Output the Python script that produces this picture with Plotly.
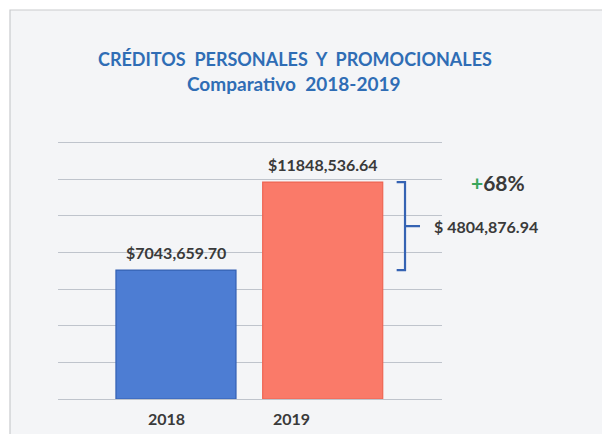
import plotly.graph_objects as go

# ---- data ----
years = ["2018", "2019"]
values = [7043659.70, 11848536.64]
bar_colors = ["#4d7dd3", "#fa7a69"]
bar_edges = ["#3461b3", "#ee6553"]

title_line1 = "CRÉDITOS&nbsp; PERSONALES&nbsp; Y&nbsp; PROMOCIONALES"
title_line2 = "Comparativo&nbsp; 2018-2019"


def fmt(v):
    cents = int(round(v * 100))
    ip, c = divmod(cents, 100)
    return f"{ip // 1000},{ip % 1000:03d}.{c:02d}"


diff = values[1] - values[0]
pct = diff / values[0] * 100

W, H = 602, 434
L, R, T, B = 58, 160, 139, 35
pw, ph = W - L - R, H - T - B


def px2paper_x(px):
    return (px - L) / pw


def px2paper_y(py):
    return (H - B - py) / ph


xs = list(range(len(years)))
FONT = "Lato"
DARK = "#3a3a3a"
BLUE = "#2f6db5"

fig = go.Figure()
fig.add_trace(go.Bar(
    x=xs, y=values, width=0.818,
    marker=dict(color=bar_colors, line=dict(color=bar_edges, width=1.2)),
    hoverinfo="skip",
))

ann = []
# value labels
for x, v in zip(xs, values):
    ann.append(dict(x=x, y=v, xref="x", yref="y", text=f"<b>${fmt(v)}</b>",
                    showarrow=False, yanchor="bottom", yshift=6, xshift=0,
                    font=dict(family=FONT, size=16, color=DARK)))
# year labels
year_shift = [-9, -31]
for x, yr, s in zip(xs, years, year_shift):
    ann.append(dict(x=x, y=0, xref="x", yref="y", text=f"<b>{yr}</b>",
                    showarrow=False, yanchor="top", yshift=-8, xshift=s,
                    font=dict(family=FONT, size=16, color=DARK)))
# titles
ann.append(dict(x=px2paper_x(295), y=px2paper_y(59), xref="paper", yref="paper",
                xanchor="center", yanchor="middle",
                text=f"<b>{title_line1}</b>", showarrow=False,
                font=dict(family=FONT, size=18, color=BLUE)))
ann.append(dict(x=px2paper_x(293.5), y=px2paper_y(83), xref="paper", yref="paper",
                xanchor="center", yanchor="middle",
                text=f"<b>{title_line2}</b>", showarrow=False,
                font=dict(family=FONT, size=19, color=BLUE)))
# difference label
ymid = (values[0] + values[1]) / 2
ann.append(dict(x=px2paper_x(432), y=ymid, xref="paper", yref="y",
                text=f"<b>$ {fmt(diff)}</b>", showarrow=False,
                xanchor="left", yanchor="middle",
                font=dict(family=FONT, size=16, color=DARK)))
ann.append(dict(x=px2paper_x(498), y=values[1], xref="paper", yref="y",
                text=f"<b><span style='color:#3aa65c'>+</span>{pct:.0f}%</b>",
                showarrow=False, xanchor="center", yanchor="middle",
                font=dict(family=FONT, size=21, color=DARK)))

shapes = [
    # scanned page frame
    dict(type="rect", xref="paper", yref="paper",
         x0=px2paper_x(10), x1=px2paper_x(610), y0=px2paper_y(445), y1=px2paper_y(10),
         line=dict(color="#c9cbce", width=1.2), fillcolor="#f4f5f7", layer="below"),
]
# bracket
bx0, bx1, bx2 = 1.504, 1.561, 1.663
shapes.append(dict(type="path", xref="x", yref="y",
                   path=f"M {bx0},{values[1]} L {bx1},{values[1]} L {bx1},{values[0]} L {bx0},{values[0]} "
                        f"M {bx1},{ymid} L {bx2},{ymid}",
                   line=dict(color="#3563b3", width=2.2)))

fig.update_layout(
    width=W, height=H,
    margin=dict(l=L, r=R, t=T, b=B, pad=0),
    paper_bgcolor="white",
    plot_bgcolor="rgba(0,0,0,0)",
    showlegend=False,
    annotations=ann,
    shapes=shapes,
    xaxis=dict(type="linear", range=[-0.804, 1.813], showgrid=False, zeroline=False,
               showticklabels=False, ticks="", fixedrange=True),
    yaxis=dict(range=[0, 14.2e6], dtick=2e6, showgrid=True, gridcolor="#bfc4cc", gridwidth=1.2,
               zeroline=True, zerolinecolor="#bfc4cc", zerolinewidth=1.2,
               showticklabels=False, ticks="", fixedrange=True),
)

fig.write_html("out.html", config={"displayModeBar": False},
               post_script="document.body.style.margin='0';document.body.style.overflow='hidden';")
